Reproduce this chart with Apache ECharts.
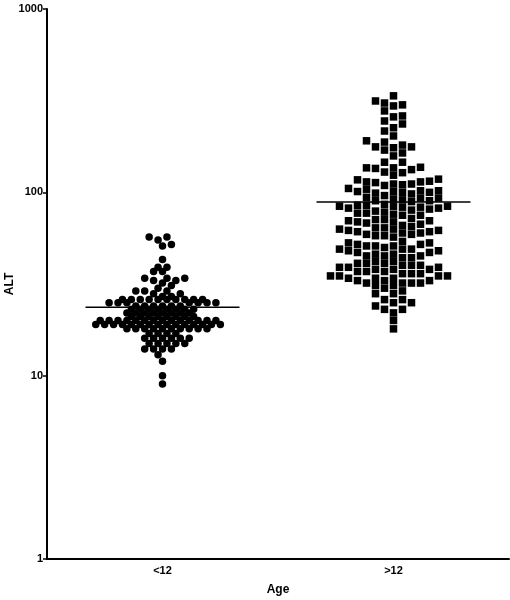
<!DOCTYPE html>
<html>
<head>
<meta charset="utf-8">
<script src="https://cdn.jsdelivr.net/npm/echarts@6/dist/echarts.min.js"></script>
<style>
  html, body { margin: 0; padding: 0; background: #fff; }
  #chart { width: 510px; height: 600px; }
</style>
</head>
<body>
<div id="chart"></div>
<script>
const groups = ['<12', '>12']

// ALT values (integers)
const under12 = [
  57, 57, 55, 52, 51, 43, 39, 39, 37, 37, 34, 34, 34, 33, 33, 32, 31,
  30, 29, 29, 29, 28, 28,
  27, 27, 26, 26, 26, 26, 26, 26, 26, 26, 26, 26, 25, 25,
  25, 25, 25, 25, 25,
  24, 24, 24, 24, 24, 24,
  23, 23, 23, 23, 23, 23, 23, 23,
  22, 22, 22, 22, 22, 22, 22, 22,
  21, 21, 21, 21, 21, 21, 21, 21,
  20, 20, 20, 20, 20, 20, 20, 20, 20, 20, 20, 20, 20, 20,
  19, 19, 19, 19, 19, 19, 19, 19, 19, 19, 19, 19, 19, 19, 19,
  18, 18, 18, 18, 18, 18, 18, 18, 18, 18,
  17, 17, 17, 17,
  16, 16, 16, 16, 16, 16,
  15, 15, 15, 15, 15,
  14, 14, 14, 14,
  13, 12, 10, 9
]

const over12 = [
  336, 315, 307, 300, 296, 278, 261, 258, 245, 236, 225, 216, 203, 191, 188, 181,
  177, 177, 175, 170, 164, 158, 146, 146,
  137, 136, 136, 135, 133, 129, 128,
  124, 118, 117, 115, 114, 114, 113, 111, 111, 110,
  109, 105, 104, 102, 102, 101, 101, 100, 100, 99, 98,
  96, 94, 93, 93, 92, 91, 90, 90, 89,
  86, 85, 85, 84, 84, 84, 83, 83, 82, 82, 81,
  80, 79, 78, 77, 77, 76, 75, 75,
  72, 71, 71, 70, 70, 69, 69, 68, 67, 66, 65, 64, 64, 63, 63, 62, 62, 61,
  61, 60, 60, 59, 59, 58, 58, 57,
  54, 53, 53, 52, 52, 51, 51, 51, 50,
  49, 49, 49, 48, 48, 47, 47, 46, 46, 45, 45, 45, 44, 44,
  42, 42, 41, 41, 41, 40, 40, 40, 39, 39, 39,
  38, 38, 38, 37, 37, 37, 36, 36, 36, 35, 35, 35, 35, 34, 34, 34,
  33, 33, 33, 32, 32, 32, 32, 31, 31, 30,
  29, 28, 28,
  26, 26, 25, 25, 24, 23,
  23, 22,
  20, 18
]

// horizontal lines drawn across each group
const meanLine = [23.6, 88.5]

const W = 510, H = 600
const grid = { left: 47, right: 1, top: 9, bottom: 41, outerBoundsMode: 'none', containLabel: false }
const decadePx = (H - grid.top - grid.bottom) / 3
const catPx = (W - grid.left - grid.right) / 2

// simple beeswarm: each point takes the free slot nearest to the centre
function swarm(values, step, collide) {
  const placed = []
  const out = []
  let side = 1
  values.slice().sort((a, b) => a - b).forEach(v => {
    const y = Math.log10(v) * decadePx
    for (let k = 0; k < 80; k++) {
      const cands = k === 0 ? [0] : [k * step * side, -k * step * side]
      const x = cands.find(c => !placed.some(p => collide(p.x - c, p.y - y)))
      if (x !== undefined) {
        placed.push({ x, y })
        out.push([x, v])
        break
      }
    }
    side = -side
  })
  return out
}

const circlePts = swarm(under12, 4.45, (dx, dy) => (dx / 4.9) ** 2 + (dy / 6.8) ** 2 < 1)
  .map(p => [0 + p[0] / catPx, p[1]])
const squarePts = swarm(over12, 9, (dx, dy) => Math.abs(dx) < 8 && Math.abs(dy) < 7.2)
  .map(p => [1 + p[0] / catPx, p[1]])

const lineHalf = 1 / 3
const labelFont = { color: '#000', fontFamily: 'Liberation Sans', fontWeight: 'bold', fontSize: 11 }

const chart = echarts.init(document.getElementById('chart'))
chart.setOption({
  animation: false,
  backgroundColor: '#fff',
  grid: grid,
  xAxis: [{
    type: 'category',
    data: groups,
    boundaryGap: true,
    name: 'Age',
    nameLocation: 'middle',
    nameGap: 25,
    nameTextStyle: { color: '#000', fontFamily: 'Liberation Sans', fontWeight: 'bold', fontSize: 12 },
    axisLine: { onZero: false, lineStyle: { color: '#000', width: 2 } },
    axisTick: { alignWithLabel: true, length: 4, lineStyle: { color: '#000', width: 1.5 } },
    axisLabel: Object.assign({ margin: 6 }, labelFont),
    splitLine: { show: false }
  }, {
    type: 'value',
    min: -0.5,
    max: 1.5,
    show: false
  }],
  yAxis: {
    type: 'log',
    logBase: 10,
    min: 1,
    max: 1000,
    name: 'ALT',
    nameLocation: 'middle',
    nameRotate: 90,
    nameGap: 31,
    nameMoveOverlap: false,
    nameTextStyle: { color: '#000', fontFamily: 'Liberation Sans', fontWeight: 'bold', fontSize: 12 },
    axisLine: { show: true, onZero: false, lineStyle: { color: '#000', width: 2 } },
    axisTick: { show: true, length: 4, lineStyle: { color: '#000', width: 1.5 } },
    axisLabel: Object.assign({ margin: 4, formatter: v => String(v) }, labelFont),
    splitLine: { show: false },
    minorTick: { show: false }
  },
  series: [{
    type: 'scatter',
    xAxisIndex: 1,
    symbol: 'circle',
    symbolSize: 7.5,
    itemStyle: { color: '#000', opacity: 1 },
    data: circlePts
  }, {
    type: 'scatter',
    xAxisIndex: 1,
    symbol: 'rect',
    symbolSize: 7.5,
    itemStyle: { color: '#000', opacity: 1 },
    data: squarePts
  }, {
    type: 'line',
    xAxisIndex: 1,
    symbol: 'none',
    z: 5,
    lineStyle: { color: '#000', width: 1.5 },
    data: [[-lineHalf, meanLine[0]], [lineHalf, meanLine[0]]]
  }, {
    type: 'line',
    xAxisIndex: 1,
    symbol: 'none',
    z: 5,
    lineStyle: { color: '#000', width: 1.5 },
    data: [[1 - lineHalf, meanLine[1]], [1 + lineHalf, meanLine[1]]]
  }]
})
</script>
</body>
</html>
